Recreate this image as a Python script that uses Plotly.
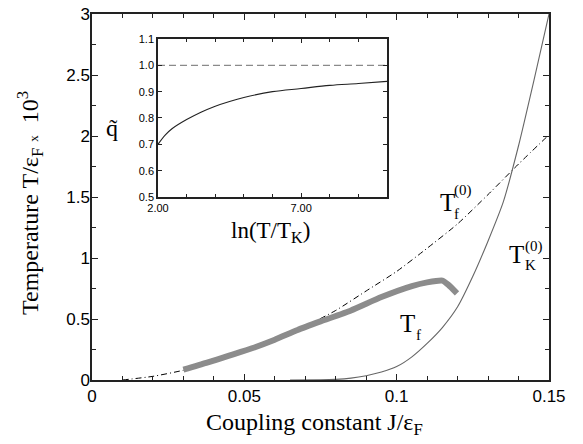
import plotly.graph_objects as go

# ---- main panel data ----
J_tf0 = [0.01, 0.02, 0.03, 0.04, 0.05, 0.06, 0.07, 0.08, 0.09, 0.10, 0.11, 0.12, 0.13, 0.14, 0.15]
T_tf0 = [0.0, 0.03, 0.08, 0.15, 0.23, 0.32, 0.44, 0.57, 0.73, 0.89, 1.08, 1.28, 1.52, 1.77, 2.01]

J_tk0 = [0.065, 0.075, 0.08, 0.085, 0.09, 0.095, 0.10, 0.105, 0.11, 0.115, 0.12, 0.125, 0.13, 0.135, 0.14, 0.145, 0.15]
T_tk0 = [0.0, 0.001, 0.005, 0.015, 0.035, 0.065, 0.11, 0.19, 0.30, 0.43, 0.60, 0.85, 1.14, 1.46, 1.92, 2.45, 3.0]

J_tf = [0.03, 0.0375, 0.045, 0.0525, 0.06, 0.0675, 0.075, 0.085, 0.095, 0.105, 0.11, 0.115, 0.117, 0.1198]
T_tf = [0.085, 0.14, 0.20, 0.26, 0.33, 0.41, 0.48, 0.57, 0.68, 0.77, 0.80, 0.815, 0.78, 0.71]

# ---- inset data ----
lnT = [2.0, 2.25, 2.5, 3.0, 3.5, 4.0, 4.5, 5.0, 6.0, 7.0, 8.0, 9.0, 10.0]
qt = [0.70, 0.735, 0.76, 0.794, 0.822, 0.845, 0.863, 0.878, 0.90, 0.912, 0.924, 0.931, 0.939]
ref_x = [2.0, 10.0]
ref_q = [1.0, 1.0]

x_ticks = [0, 0.05, 0.1, 0.15]
x_ticktext = ["0", "0.05", "0.1", "0.15"]
y_ticks = [0, 0.5, 1, 1.5, 2, 2.5, 3]
y_ticktext = ["0", "0.5", "1", "1.5", "2", "2.5", "3"]
ix_ticks = [2, 7]
ix_ticktext = ["2.00", "7.00"]

SERIF = "Liberation Serif"
SANS = "Liberation Sans"

fig = go.Figure()
fig.add_trace(go.Scatter(x=J_tf0, y=T_tf0, mode="lines", line=dict(color="black", width=1, dash="6px,3px,1px,3px", shape="spline", smoothing=0.6), xaxis="x", yaxis="y"))
fig.add_trace(go.Scatter(x=J_tk0, y=T_tk0, mode="lines", line=dict(color="#666666", width=1.1, shape="spline", smoothing=0.6), xaxis="x", yaxis="y"))
fig.add_trace(go.Scatter(x=J_tf, y=T_tf, mode="lines", line=dict(color="#8c8c8c", width=6, shape="spline", smoothing=0.5), xaxis="x", yaxis="y"))
fig.add_trace(go.Scatter(x=ref_x, y=ref_q, mode="lines", line=dict(color="#8a8a8a", width=1.2, dash="7px,4px"), xaxis="x2", yaxis="y2"))
fig.add_trace(go.Scatter(x=lnT, y=qt, mode="lines", line=dict(color="#222222", width=1.1, shape="spline"), xaxis="x2", yaxis="y2"))

axis_common = dict(showline=True, linecolor="#222222", linewidth=1.5, mirror="allticks", ticks="inside",
                   tickcolor="#222222", showgrid=False, zeroline=False, automargin=False)

fig.update_layout(
    template="none",
    width=583, height=444,
    margin=dict(l=92, r=34, t=14, b=64, autoexpand=False),
    paper_bgcolor="white", plot_bgcolor="white",
    showlegend=False,
    xaxis=dict(range=[0, 0.15], domain=[0, 1], tickvals=x_ticks, ticktext=x_ticktext, ticklen=6, tickwidth=1.2,
               tickfont=dict(family=SANS, size=17, color="black"),
               minor=dict(dtick=0.01, ticks="inside", ticklen=4, tickcolor="#222222", showgrid=False), **axis_common),
    yaxis=dict(range=[0, 3], domain=[0, 1], tickvals=y_ticks, ticktext=y_ticktext, ticklen=6, tickwidth=1.2,
               tickfont=dict(family=SANS, size=17, color="black"), ticklabelstandoff=-3,
               minor=dict(dtick=0.25, ticks="inside", ticklen=4, tickcolor="#222222", showgrid=False), **axis_common),
    xaxis2=dict(range=[2, 10], domain=[0.1444, 0.6455], anchor="y2", tickvals=ix_ticks, ticktext=ix_ticktext,
                ticklen=4, tickwidth=1, tickfont=dict(family=SANS, size=11, color="black"),
                minor=dict(dtick=1, tick0=2, ticks="inside", ticklen=3, tickcolor="#222222", showgrid=False), **axis_common),
    yaxis2=dict(range=[0.5, 1.1], domain=[0.5, 0.9317], anchor="x2", dtick=0.1, tick0=0.5, tickformat=".1f",
                ticklen=4, tickwidth=1, tickfont=dict(family=SANS, size=11, color="black"), **axis_common),
)

def to_paper(xp, yp):
    return (xp - 92) / 457, (380 - yp) / 366

def add_px(text, xp, yp, size, angle=0, family=SERIF):
    xx, yy = to_paper(xp, yp)
    fig.add_annotation(text=text, x=xx, y=yy, xref="paper", yref="paper", showarrow=False, textangle=angle,
                       font=dict(family=family, size=size, color="black"), xanchor="center", yanchor="middle")

add_px("Coupling constant J/ε<sub>F</sub>", 314, 424, 24)
add_px("Temperature T/ε<sub>F</sub> <span style='font-size:13px'>x</span>  10<sup>3</sup>", 30, 203, 24, angle=-90)
add_px("ln(T/T<sub>K</sub>)", 270, 232, 23)
add_px("q\u0303", 112, 128, 24)
# curve labels
add_px("T", 447, 202, 25)
add_px("f", 456, 214, 15)
add_px("(0)", 463, 190, 15)
add_px("T", 516, 254, 25)
add_px("K", 530, 265, 15)
add_px("(0)", 534, 246, 15)
add_px("T", 407, 323, 25)
add_px("f", 418, 335, 15)

fig.write_html("out.html", config={"displayModeBar": False},
               post_script="document.body.style.margin='0';document.body.style.overflow='hidden';")
